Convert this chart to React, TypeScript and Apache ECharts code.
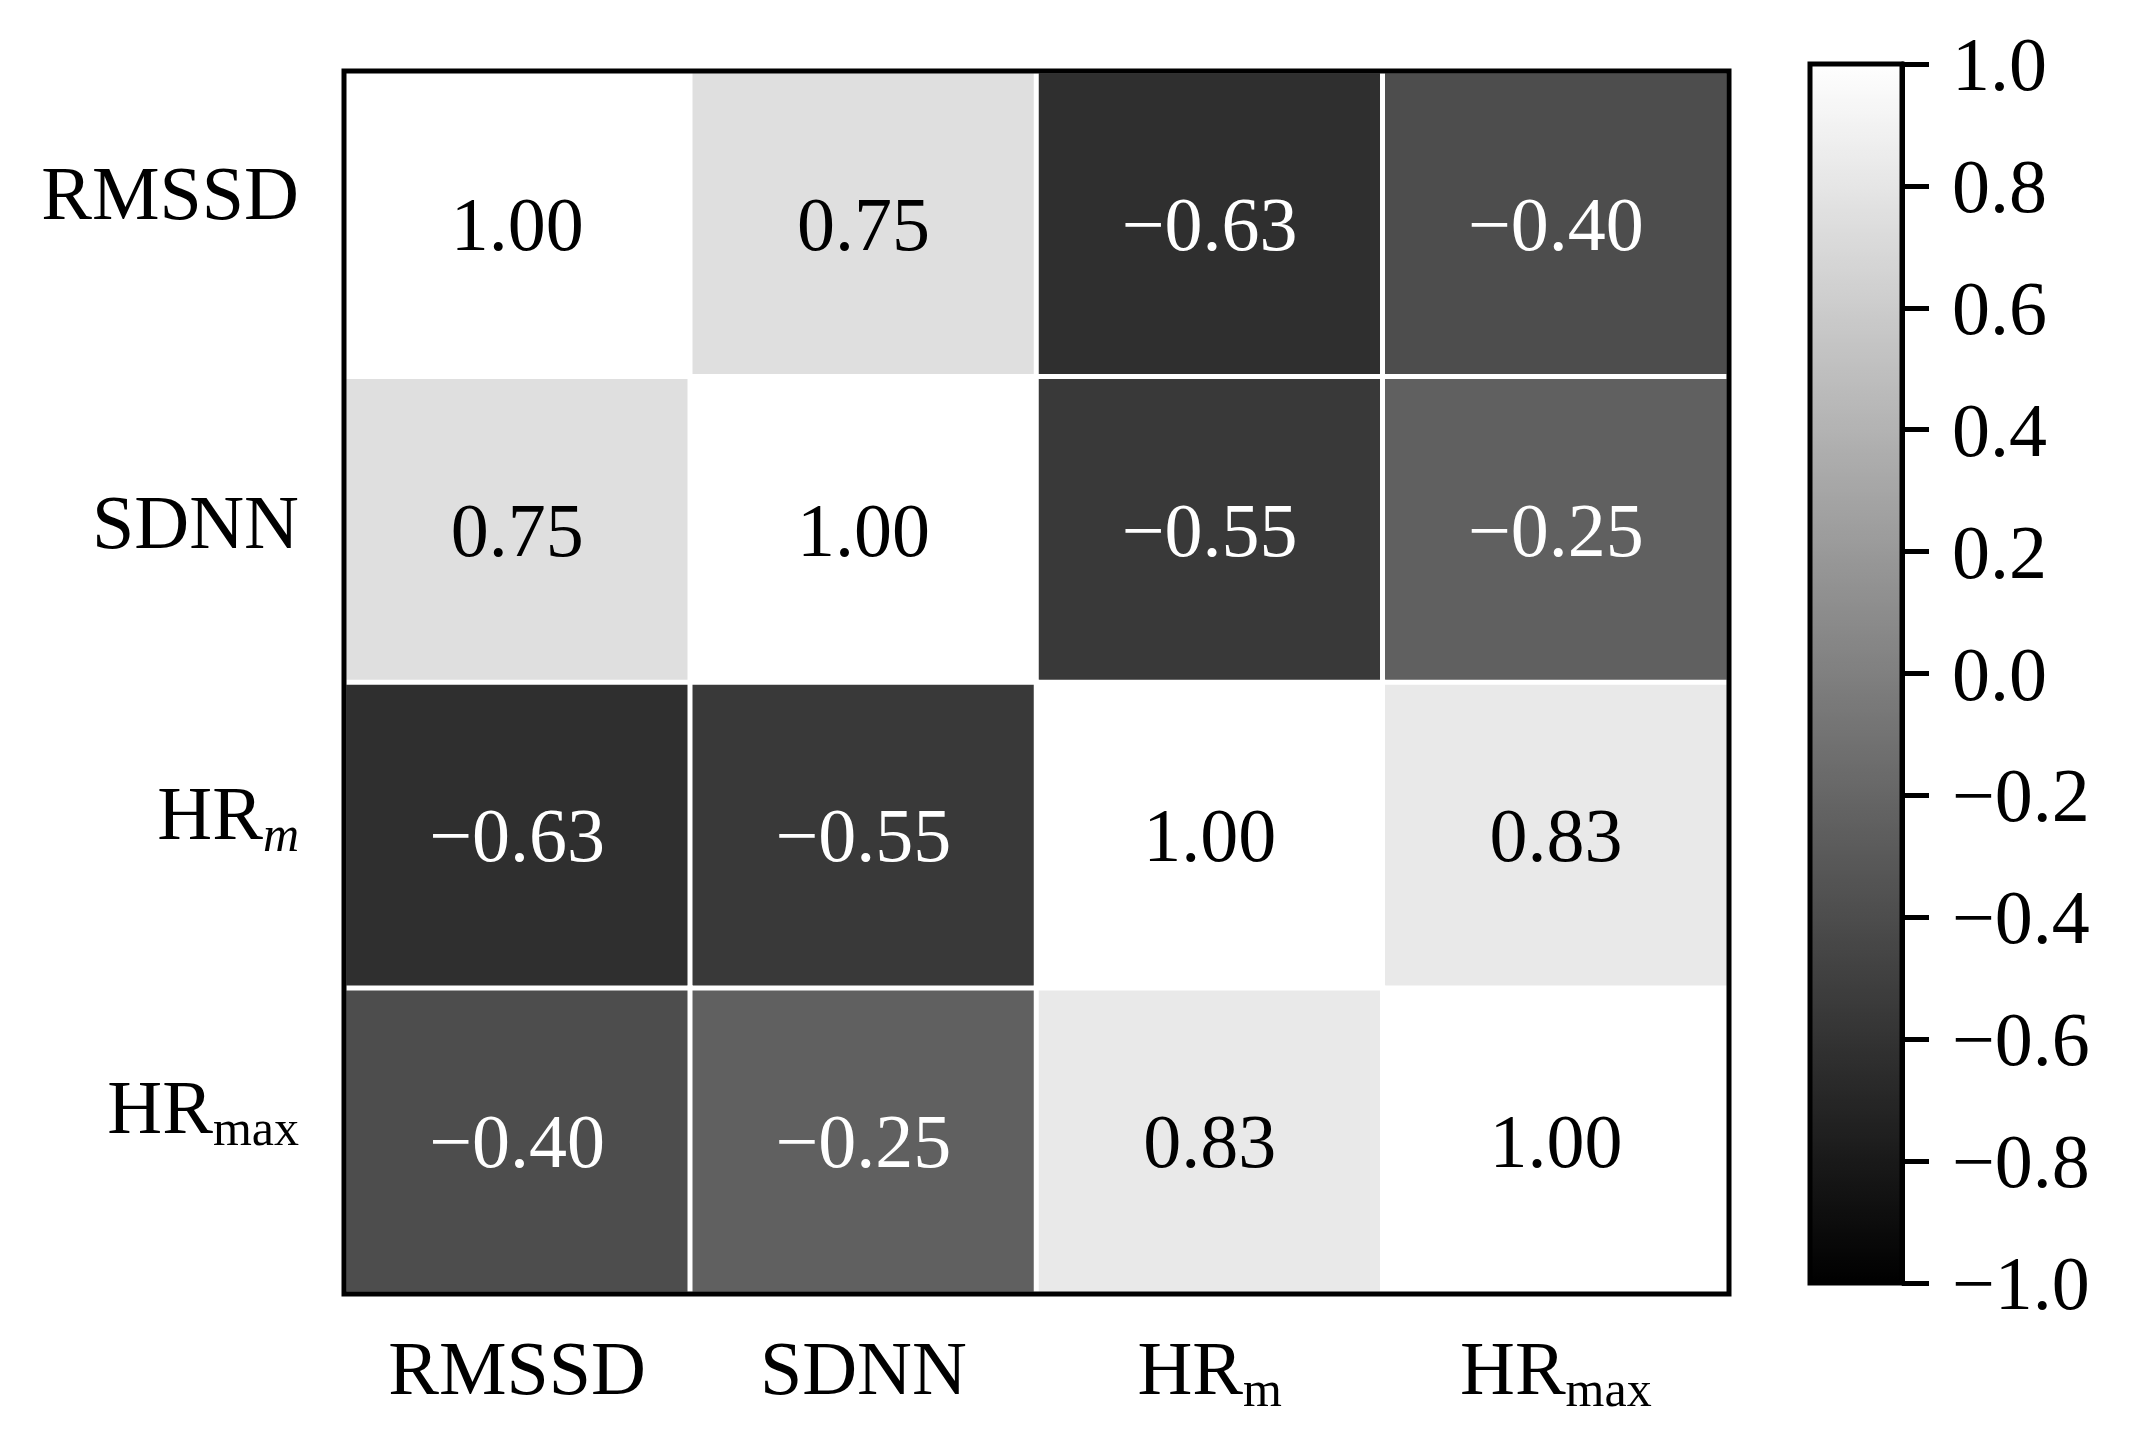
import React, { useEffect, useRef } from "react";
import * as echarts from "echarts";

const xCategories = ["RMSSD", "SDNN", "HRm", "HRmax"];
const yCategories = ["RMSSD", "SDNN", "HRm", "HRmax"];

const rowRMSSD = [1.0, 0.75, -0.63, -0.4];
const rowSDNN = [0.75, 1.0, -0.55, -0.25];
const rowHRm = [-0.63, -0.55, 1.0, 0.83];
const rowHRmax = [-0.4, -0.25, 0.83, 1.0];
const matrixRows = [rowRMSSD, rowSDNN, rowHRm, rowHRmax];

const colorMin = -1;
const colorMax = 1;
const colorStep = 0.2;

const FONT = "'Liberation Serif', 'Times New Roman', serif";

// extra bottom padding (px) that lifts each y-axis label, as in the original figure
const yLabelLift = [23, 0, 14, 26];

function fmtCell(v: number) {
  return (v < 0 ? "\u2212" : "") + Math.abs(v).toFixed(2);
}
function fmtBar(v: number) {
  if (Math.abs(v) < 1e-9) return "0.0";
  return (v < 0 ? "\u2212" : "") + Math.abs(v).toFixed(1);
}

function tokenStyles(key: string, lift: number, italicSub: boolean) {
  return {
    ["n" + key]: {
      fontFamily: FONT,
      fontSize: 76,
      color: "#000",
      lineHeight: 76,
      verticalAlign: "bottom",
      padding: [0, 0, 8 + lift, 0],
    },
    ["s" + key]: {
      fontFamily: FONT,
      fontSize: 50,
      color: "#000",
      lineHeight: 50,
      verticalAlign: "bottom",
      fontStyle: italicSub ? "italic" : "normal",
      padding: [0, 0, lift, 0],
    },
  };
}

function catLabel(name: string, key: string) {
  if (name.startsWith("HR")) return "{n" + key + "|HR}{s" + key + "|" + name.slice(2) + "}";
  return "{n" + key + "|" + name + "}";
}

export default function App() {
  const ref = useRef<HTMLDivElement>(null);
  useEffect(() => {
    const chart = echarts.init(ref.current!, null, { renderer: "svg" });
    const data: any[] = [];
    matrixRows.forEach((row, yi) => {
      row.forEach((v, xi) => {
        data.push({ value: [xi, yi, v], label: { color: v < 0 ? "#fff" : "#000" } });
      });
    });
    let yRich: any = {};
    yCategories.forEach((c, i) => {
      Object.assign(yRich, tokenStyles("y" + i, yLabelLift[i], c === "HRm"));
    });
    const xRich: any = tokenStyles("x", 0, false);
    const option: any = {
      animation: false,
      backgroundColor: "#fff",
      grid: [
        {
          left: 344,
          top: 71,
          width: 1385,
          height: 1223,
          show: true,
          backgroundColor: "transparent",
          borderColor: "#000",
          borderWidth: 5,
          z: 10,
        },
        {
          left: 1810,
          top: 64,
          width: 92,
          height: 1219,
          show: true,
          backgroundColor: "transparent",
          borderColor: "#000",
          borderWidth: 5,
          z: 10,
        },
      ],
      xAxis: [
        {
          gridIndex: 0,
          type: "category",
          data: xCategories,
          axisLine: { show: false },
          axisTick: { show: false },
          splitLine: { show: false },
          axisLabel: {
            margin: 44,
            formatter: (v: string) => catLabel(v, "x"),
            rich: xRich,
          },
        },
        {
          gridIndex: 1,
          type: "category",
          data: ["bar"],
          show: false,
        },
      ],
      yAxis: [
        {
          gridIndex: 0,
          type: "category",
          data: yCategories,
          inverse: true,
          axisLine: { show: false },
          axisTick: { show: false },
          splitLine: { show: false },
          axisLabel: {
            margin: 45,
            formatter: (v: string, i: number) => catLabel(v, "y" + i),
            rich: yRich,
          },
        },
        {
          gridIndex: 1,
          type: "value",
          min: colorMin,
          max: colorMax,
          interval: colorStep,
          position: "right",
          z: 10,
          splitLine: { show: false },
          axisLine: { show: true, lineStyle: { color: "#000", width: 5 } },
          axisTick: { show: true, inside: false, length: 27, lineStyle: { color: "#000", width: 5 } },
          axisLabel: {
            margin: 50,
            fontFamily: FONT,
            fontSize: 76,
            color: "#000",
            formatter: (v: number) => fmtBar(v),
          },
        },
      ],
      visualMap: {
        type: "continuous",
        min: colorMin,
        max: colorMax,
        calculable: false,
        orient: "vertical",
        left: 1810,
        top: 64,
        itemWidth: 92,
        itemHeight: 1219,
        padding: 0,
        text: null,
        seriesIndex: 0,
        inRange: { color: ["#000000", "#ffffff"] },
      },
      series: [
        {
          type: "heatmap",
          xAxisIndex: 0,
          yAxisIndex: 0,
          data,
          itemStyle: { borderColor: "#fff", borderWidth: 5 },
          emphasis: { disabled: true },
          label: {
            show: true,
            fontFamily: FONT,
            fontSize: 76,
            formatter: (p: any) => fmtCell(p.value[2]),
          },
        },
      ],
    };
    chart.setOption(option);
    return () => chart.dispose();
  }, []);
  return (
    <div
      ref={ref}
      style={{ position: "fixed", left: 0, top: 0, width: 2133, height: 1453, background: "#fff" }}
    />
  );
}
